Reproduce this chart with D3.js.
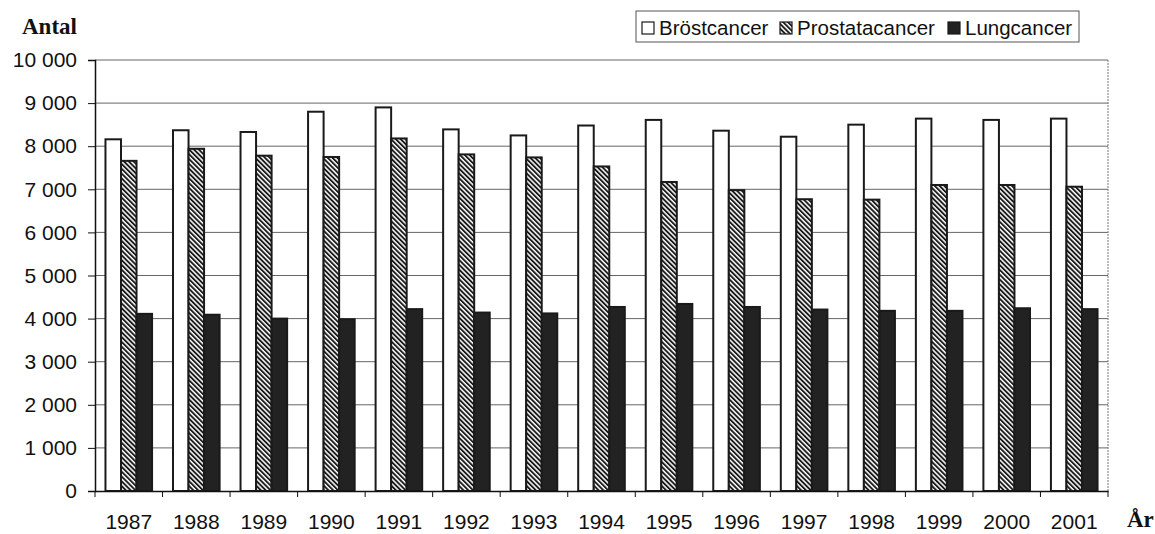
<!DOCTYPE html>
<html>
<head>
<meta charset="utf-8">
<script src="https://cdn.jsdelivr.net/npm/d3@7"></script>
<style>
  body { margin: 0; background: #fff; }
  text { font-family: "Liberation Sans", Arial, sans-serif; fill: #111; }
</style>
</head>
<body>
<svg id="chart" width="1155" height="534"></svg>
<script>
// data
var years = ["1987","1988","1989","1990","1991","1992","1993","1994","1995","1996","1997","1998","1999","2000","2001"];
var series = ["Bröstcancer", "Prostatacancer", "Lungcancer"];
var brost = [8160, 8370, 8330, 8800, 8900, 8390, 8250, 8480, 8610, 8360, 8220, 8500, 8640, 8610, 8640];
var prostata = [7660, 7940, 7780, 7750, 8180, 7810, 7740, 7530, 7170, 6980, 6770, 6760, 7100, 7100, 7060];
var lung = [4110, 4090, 4000, 3985, 4220, 4140, 4120, 4270, 4340, 4270, 4210, 4180, 4180, 4240, 4220];
var yTicks = [0, 1000, 2000, 3000, 4000, 5000, 6000, 7000, 8000, 9000, 10000];

var svg = d3.select("#chart");
var plotLeft = 95, plotRight = 1108, plotTop = 60, plotBottom = 491;

var defs = svg.append("defs");
defs.append("pattern")
  .attr("id", "hatch")
  .attr("patternUnits", "userSpaceOnUse")
  .attr("width", 3.4)
  .attr("height", 3.4)
  .attr("patternTransform", "rotate(-45)")
  .call(function (p) {
    p.append("rect").attr("width", 3.4).attr("height", 3.4).attr("fill", "#fff");
    p.append("rect").attr("width", 1.9).attr("height", 3.4).attr("fill", "#1a1a1a");
  });

var fills = ["#fff", "url(#hatch)", "#222"];

var x = d3.scaleBand().domain(years).range([plotLeft, plotRight])
  .paddingInner(0.31).paddingOuter(0.155);
var xs = d3.scaleBand().domain(series).range([0, x.bandwidth()]);
var y = d3.scaleLinear().domain([0, 10000]).range([plotBottom, plotTop]);

var fmt = d3.formatLocale({ thousands: " ", grouping: [3], decimal: "," }).format(",");

// grid lines
svg.append("g")
  .selectAll("line")
  .data(yTicks.filter(function (d) { return d > 0; }))
  .enter()
  .append("line")
  .attr("x1", plotLeft).attr("x2", plotRight)
  .attr("y1", function (d) { return y(d); })
  .attr("y2", function (d) { return y(d); })
  .attr("stroke", "#666")
  .attr("stroke-width", 1);

// right border of plot
svg.append("line")
  .attr("x1", plotRight).attr("x2", plotRight)
  .attr("y1", plotTop).attr("y2", plotBottom)
  .attr("stroke", "#777")
  .attr("stroke-dasharray", "2,1");

// bars
var rows = years.map(function (yr, i) {
  return { year: yr, values: [brost[i], prostata[i], lung[i]] };
});

var groups = svg.append("g")
  .selectAll("g")
  .data(rows)
  .enter()
  .append("g")
  .attr("transform", function (d) { return "translate(" + x(d.year) + ",0)"; });

groups.selectAll("rect")
  .data(function (d) {
    return d.values.map(function (v, j) { return { key: series[j], value: v, j: j }; });
  })
  .enter()
  .append("rect")
  .attr("x", function (d) { return xs(d.key); })
  .attr("width", xs.bandwidth())
  .attr("y", function (d) { return y(d.value); })
  .attr("height", function (d) { return plotBottom - y(d.value); })
  .attr("fill", function (d) { return fills[d.j]; })
  .attr("stroke", "#1a1a1a")
  .attr("stroke-width", 2);

// y axis
var yAxis = svg.append("g")
  .attr("transform", "translate(" + plotLeft + ",0)")
  .call(d3.axisLeft(y).tickValues(yTicks).tickFormat(fmt).tickSize(7).tickPadding(11));
yAxis.select(".domain").attr("stroke", "#111").attr("stroke-width", 1.5);
yAxis.selectAll(".tick line").attr("stroke", "#111");
yAxis.selectAll("text").style("font-size", "21px").attr("fill", "#111");

// x axis
var xAxis = svg.append("g")
  .attr("transform", "translate(0," + plotBottom + ")")
  .call(d3.axisBottom(x).tickSize(0).tickPadding(23));
xAxis.select(".domain").attr("stroke", "#111").attr("stroke-width", 1.5);
xAxis.selectAll("text").style("font-size", "21px").attr("fill", "#111");

// category boundary ticks
svg.append("g")
  .selectAll("line")
  .data(d3.range(years.length + 1))
  .enter()
  .append("line")
  .attr("x1", function (i) { return plotLeft + i * x.step(); })
  .attr("x2", function (i) { return plotLeft + i * x.step(); })
  .attr("y1", plotBottom).attr("y2", plotBottom + 6)
  .attr("stroke", "#111");

// axis titles
svg.append("text")
  .attr("x", 22).attr("y", 34)
  .style("font-family", "'Liberation Serif', 'Times New Roman', serif")
  .style("font-weight", "bold")
  .style("font-size", "23px")
  .text("Antal");

svg.append("text")
  .attr("x", 1127).attr("y", 527)
  .style("font-family", "'Liberation Serif', 'Times New Roman', serif")
  .style("font-weight", "bold")
  .style("font-size", "23px")
  .text("År");

// legend
var legend = svg.append("g");
legend.append("rect")
  .attr("x", 636).attr("y", 11)
  .attr("width", 443).attr("height", 31)
  .attr("fill", "#fff")
  .attr("stroke", "#555");

var legX = [642, 780, 948];
series.forEach(function (s, j) {
  legend.append("rect")
    .attr("x", legX[j]).attr("y", 22)
    .attr("width", 12).attr("height", 12)
    .attr("fill", fills[j])
    .attr("stroke", "#1a1a1a")
    .attr("stroke-width", 1.2);
  legend.append("text")
    .attr("x", legX[j] + 17).attr("y", 35)
    .style("font-size", "20.5px")
    .text(s);
});
</script>
</body>
</html>
